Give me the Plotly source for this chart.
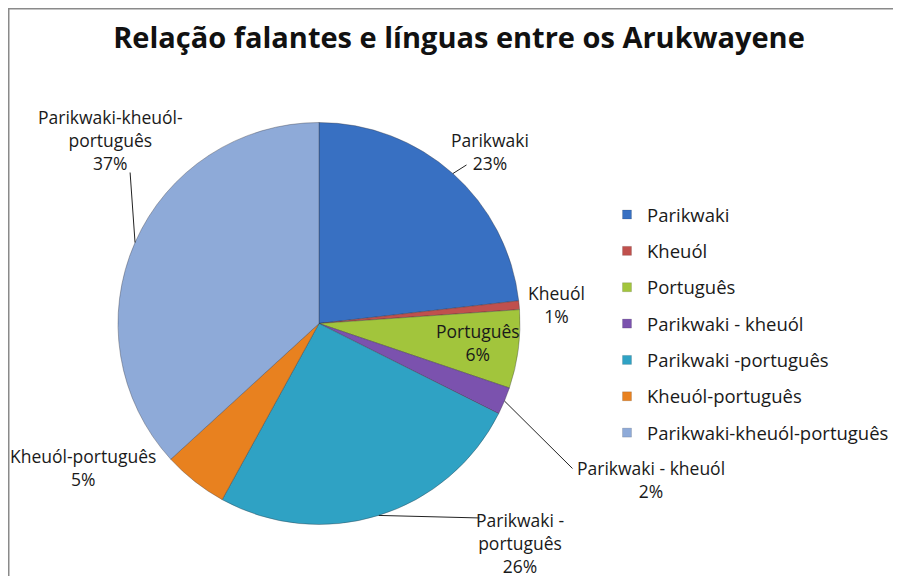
import math

import plotly.graph_objects as go

# the page adds an 8px body margin at top/left; the figure runs to the window edges
PAGE_OFF = 8
W, H = 901 - PAGE_OFF, 576 - PAGE_OFF

categories = [
    "Parikwaki",
    "Kheuól",
    "Português",
    "Parikwaki - kheuól",
    "Parikwaki -português",
    "Kheuól-português",
    "Parikwaki-kheuól-português",
]
shares = [23.2, 0.7, 6.3, 2.2, 25.6, 5.2, 36.8]
slice_labels = [
    "Parikwaki",
    "Kheuól",
    "Português",
    "Parikwaki - kheuól",
    "Parikwaki -<br>português",
    "Kheuól-português",
    "Parikwaki-kheuól-<br>português",
]
colors = ["#3870c2", "#c0504d", "#a2c53c", "#7b52ae", "#2fa2c4", "#e8811f", "#8eaad8"]

# pie geometry in window pixels (centre, radius)
cx, cy, r = 319, 323.5, 201

# label centres (window pixels) and leader-line tails (None = no line)
label_pos = [(490, 151), (556, 304), (478, 342), (651, 479), (520, 543), (83, 467), (110, 140)]
leader_tail = [(468, 164), None, None, (574, 470), (481, 518), None, (130, 171)]


def px_to_paper(x, y):
    return (x - PAGE_OFF) / W, 1 - (y - PAGE_OFF) / H


fig = go.Figure()
dx0, dy0 = px_to_paper(cx - r, cy + r)
dx1, dy1 = px_to_paper(cx + r, cy - r)
fig.add_trace(
    go.Pie(
        labels=categories,
        values=shares,
        sort=False,
        direction="clockwise",
        rotation=0,
        textinfo="none",
        hoverinfo="label+percent",
        showlegend=False,
        marker=dict(colors=colors, line=dict(color="rgba(50,50,60,0.45)", width=0.8)),
        domain=dict(x=[dx0, dx1], y=[dy0, dy1]),
    )
)

# legend proxies, one group each so the rows can be spaced like the original
for name, col in zip(categories, colors):
    fig.add_trace(
        go.Scatter(
            x=[None],
            y=[None],
            mode="markers",
            name=name,
            legendgroup=name,
            marker=dict(symbol="square", size=9, color=col, line=dict(color="rgba(0,0,0,0.25)", width=0.5)),
        )
    )

total = sum(shares)
annotations = []
cum = 0.0
for cat, val, text, pos, tail in zip(categories, shares, slice_labels, label_pos, leader_tail):
    pct = val / total
    lx, ly = px_to_paper(*pos)
    annotations.append(
        dict(
            x=lx,
            y=ly,
            xref="paper",
            yref="paper",
            xanchor="center",
            yanchor="middle",
            text=f"{text}<br>{pct:.0%}",
            showarrow=False,
            font=dict(size=17.5, color="#1a1a1a"),
            align="center",
        )
    )
    if tail is not None:
        theta = 2 * math.pi * (cum + val / 2) / total
        ex, ey = cx + r * math.sin(theta), cy - r * math.cos(theta)
        px_, py_ = px_to_paper(ex, ey)
        annotations.append(
            dict(
                x=px_,
                y=py_,
                xref="paper",
                yref="paper",
                ax=tail[0] - ex,
                ay=tail[1] - ey,
                text="",
                showarrow=True,
                arrowhead=0,
                arrowwidth=1,
                arrowcolor="#222222",
                standoff=0,
                startstandoff=0,
            )
        )
    cum += val

tx, ty = px_to_paper(459, 38)
lgx, lgy = px_to_paper(607, 196)
fig.update_layout(
    width=W,
    height=H,
    margin=dict(l=0, r=0, t=0, b=0),
    paper_bgcolor="white",
    plot_bgcolor="white",
    font=dict(family="Open Sans, sans-serif", color="#1a1a1a"),
    title=dict(
        text="<b>Relação falantes e línguas entre os Arukwayene</b>",
        x=tx,
        xanchor="center",
        y=ty,
        yanchor="middle",
        font=dict(size=29, color="#111111"),
    ),
    xaxis=dict(visible=False),
    yaxis=dict(visible=False),
    showlegend=True,
    legend=dict(
        x=lgx,
        y=lgy,
        xanchor="left",
        yanchor="top",
        tracegroupgap=9.3,
        itemwidth=30,
        font=dict(size=18.5, color="#1a1a1a"),
        bgcolor="rgba(0,0,0,0)",
    ),
    annotations=annotations,
    shapes=[
        dict(
            type="rect",
            xref="paper",
            yref="paper",
            x0=0.75 / W,
            x1=1.02,
            y0=-0.02,
            y1=1 - 0.75 / H,
            line=dict(color="#8a8a8a", width=1.5),
        )
    ],
)

fig.write_html("out.html")
